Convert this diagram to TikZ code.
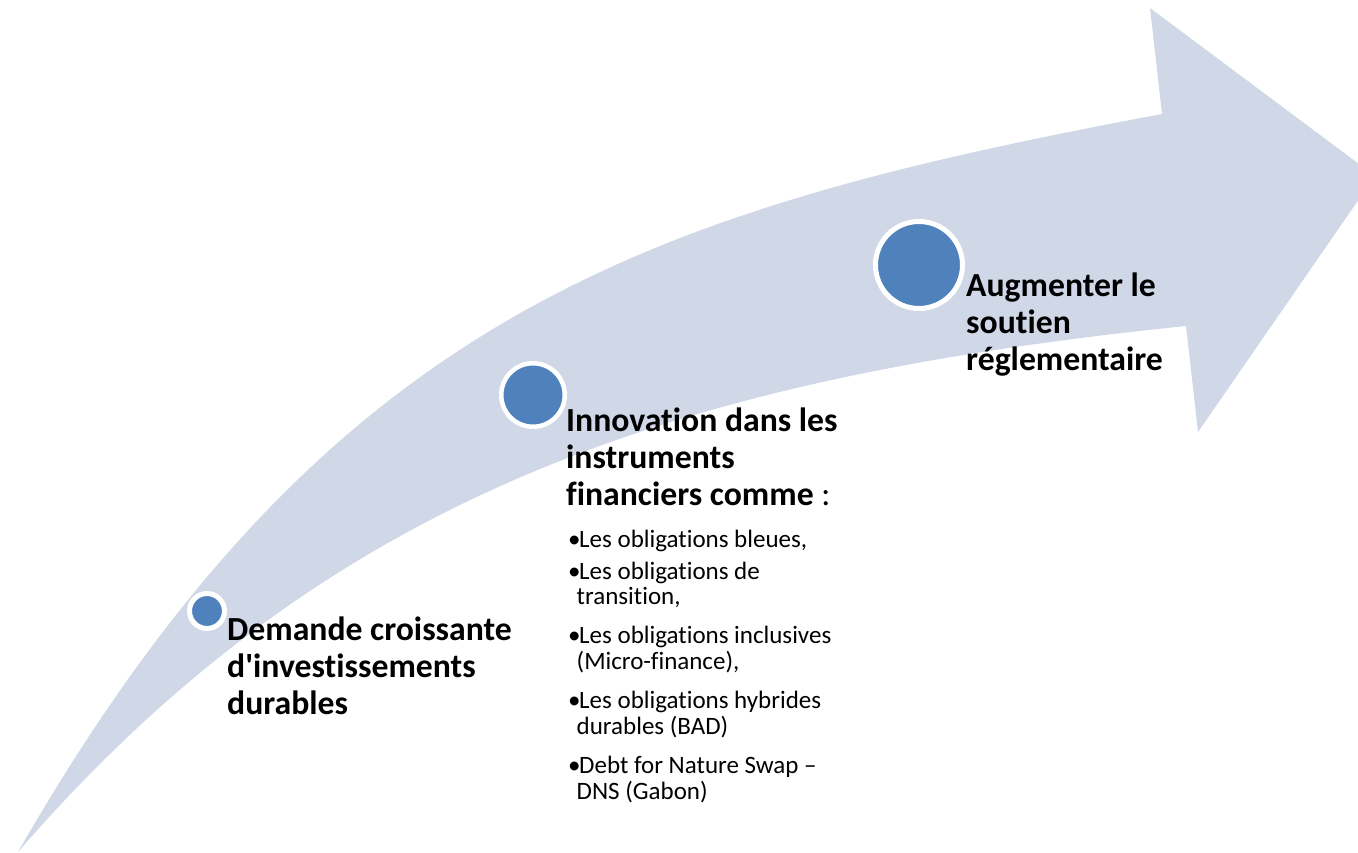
\documentclass[tikz,border=0pt]{standalone}
\usepackage{fontspec}
\setmainfont{Carlito}[Ligatures={TeX,NoCommon}]
\definecolor{band}{HTML}{D0D8E8}
\definecolor{dot}{HTML}{4F81BD}
\newcommand{\headfont}{\bfseries\fontsize{33.7}{37}\selectfont}
\newcommand{\listfont}{\fontsize{25}{25.7}\selectfont}
\newcommand{\bul}{\makebox[11pt][l]{•}}
\newcommand{\cont}{\hspace*{8.5pt}}
\begin{document}
\begin{tikzpicture}[x=1pt,y=-1pt,
  dotstyle/.style={circle, fill=dot, draw=white, inner sep=0pt},
  headtext/.style={anchor=base west, inner sep=0pt},
  bodytext/.style={anchor=base west, inner sep=0pt}]
\useasboundingbox (0,0) rectangle (1358,853);
\begin{scope}
\clip (0,0) rectangle (1358,853);
\fill[band] (18,852) .. controls (328,312) and (650,210) .. (1162,114)
  -- (1150,8) -- (1375,176) -- (1198,432) -- (1186,326)
  .. controls (680,378) and (330,492) .. (18,852) -- cycle;
\end{scope}
\node[dotstyle, minimum size=35pt, line width=5pt] (c1) at (207,611) {};
\node[dotstyle, minimum size=63.5pt, line width=4.5pt] (c2) at (533,395) {};
\node[dotstyle, minimum size=87pt, line width=5pt] (c3) at (919,265) {};
\node[headtext] (t1) at (227,640) {\parbox[t]{320pt}{\raggedright\headfont
Demande croissante\\d\textquotesingle investissements\\durables}};
\node[headtext] (t2) at (566,431) {\parbox[t]{320pt}{\raggedright\headfont
Innovation dans les\\instruments\\financiers comme {\mdseries :}}};
\node[headtext] (t3) at (966,296) {\parbox[t]{320pt}{\raggedright\headfont
Augmenter le\\soutien\\réglementaire}};
\node[bodytext] (b) at (568,547) {\parbox[t]{320pt}{\raggedright\listfont
\bul Les obligations bleues,\par\vspace{6.3pt}
\bul Les obligations de\\
\cont transition,\par\vspace{13.5pt}
\bul Les obligations inclusives\\
\cont (Micro-finance),\par\vspace{13.5pt}
\bul Les obligations hybrides\\
\cont durables (BAD)\par\vspace{13.5pt}
\bul Debt for Nature Swap --\\
\cont DNS (Gabon)}};
\end{tikzpicture}
\end{document}
